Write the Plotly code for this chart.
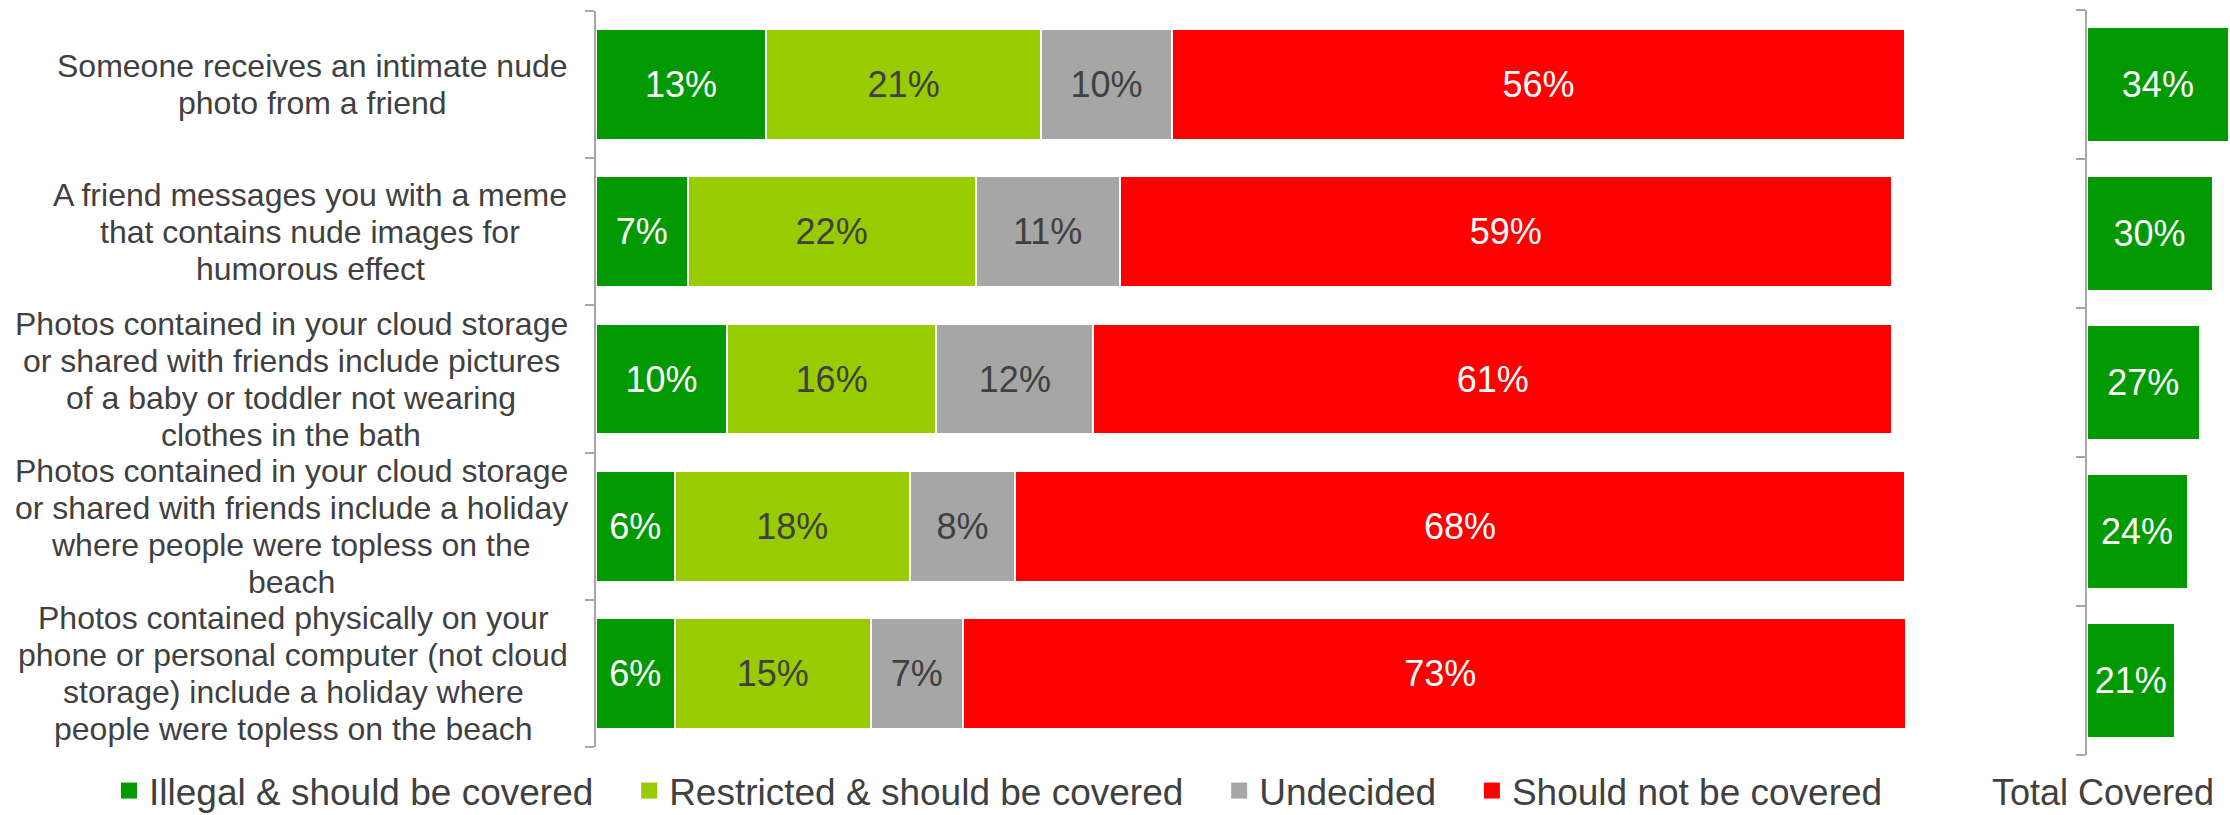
import plotly.graph_objects as go

# ---- data -------------------------------------------------------------
categories = [
    "Someone receives an intimate nude<br>photo from a friend",
    "A friend messages you with a meme<br>that contains nude images for<br>humorous effect",
    "Photos contained in your cloud storage<br>or shared with friends include pictures<br>of a baby or toddler not wearing<br>clothes in the bath",
    "Photos contained in your cloud storage<br>or shared with friends include a holiday<br>where people were topless on the<br>beach",
    "Photos contained physically on your<br>phone or personal computer (not cloud<br>storage) include a holiday where<br>people were topless on the beach",
]
series_names = [
    "Illegal & should be covered",
    "Restricted & should be covered",
    "Undecided",
    "Should not be covered",
]
illegal = [13, 7, 10, 6, 6]
restricted = [21, 22, 16, 18, 15]
undecided = [10, 11, 12, 8, 7]
not_covered = [56, 59, 61, 68, 73]
total_covered = [34, 30, 27, 24, 21]
total_title = "Total Covered"

# ---- styling ----------------------------------------------------------
W, H = 2230, 815
FONT = "Liberation Sans, Arial, sans-serif"
TEXT = "#404040"
AXIS = "#A6A6A6"
colors = ["#009900", "#99CC00", "#A6A6A6", "#FF0000"]
label_colors = ["white", TEXT, TEXT, "white"]

CAT_SIZE = 32
CAT_PITCH = 37
CAT_RIGHT = 568          # right edge of the category label blocks (px)

# Arial / Liberation Sans advance widths (per 1000 em) for centring label lines
ADV = {' ': 278, '(': 333, ')': 333, 'a': 556, 'b': 556, 'c': 500, 'd': 556,
       'e': 556, 'f': 278, 'g': 556, 'h': 556, 'i': 222, 'j': 222, 'k': 500,
       'l': 222, 'm': 833, 'n': 556, 'o': 556, 'p': 556, 'q': 556, 'r': 333,
       's': 500, 't': 278, 'u': 556, 'v': 500, 'w': 722, 'x': 500, 'y': 500,
       'z': 500, 'A': 667, 'P': 667, 'S': 667}


def text_width(s, size):
    return sum(ADV.get(ch, 556) for ch in s) * size / 1000.0


def px_x(p):
    return p / W


def px_y(p):
    return 1 - p / H


rows = list(range(len(categories)))
fig = go.Figure()

# stacked main bars
for name, vals, col, tcol in zip(series_names,
                                 [illegal, restricted, undecided, not_covered],
                                 colors, label_colors):
    fig.add_trace(go.Bar(
        y=rows, x=vals, orientation="h", name=name,
        marker=dict(color=col, line=dict(color="white", width=2)),
        text=[f"{v}%" for v in vals], textposition="inside",
        insidetextanchor="middle",
        textfont=dict(family=FONT, size=36, color=tcol),
        showlegend=False, xaxis="x", yaxis="y",
    ))

# legend entries (square swatches)
pad = "\u00a0" * 3
for i, (name, col) in enumerate(zip(series_names, colors)):
    fig.add_trace(go.Scatter(
        x=[None], y=[None], mode="markers", name=name + (pad if i < 3 else ""),
        marker=dict(symbol="square", size=16, color=col),
        showlegend=True, xaxis="x", yaxis="y",
    ))

# total covered panel
fig.add_trace(go.Bar(
    y=rows, x=total_covered, orientation="h", width=0.76,
    marker=dict(color=colors[0], line=dict(color="white", width=1)),
    text=[f"{v}%" for v in total_covered], textposition="inside",
    insidetextanchor="middle",
    textfont=dict(family=FONT, size=36, color="white"),
    showlegend=False, xaxis="x2", yaxis="y2",
))

# category labels, one annotation per line so the line pitch stays tight
annotations = []
for i, cat in enumerate(categories):
    lines = cat.split("<br>")
    n = len(lines)
    wmax = max(text_width(l, CAT_SIZE) for l in lines)
    xc = CAT_RIGHT - wmax / 2
    for k, line in enumerate(lines):
        annotations.append(dict(
            x=px_x(xc), xref="paper", y=i, yref="y",
            xanchor="center", yanchor="middle",
            yshift=((n - 1) / 2 - k) * CAT_PITCH,
            text=line, showarrow=False,
            font=dict(family=FONT, size=CAT_SIZE, color=TEXT),
        ))

annotations.append(dict(
    x=px_x(2103), xref="paper", y=px_y(792), yref="paper",
    xanchor="center", yanchor="middle", text=total_title, showarrow=False,
    font=dict(family=FONT, size=36, color=TEXT),
))

boundaries = [r - 0.5 for r in rows] + [rows[-1] + 0.5]
yaxis_common = dict(
    range=[rows[-1] + 0.5, -0.5], tickvals=boundaries, showticklabels=False,
    ticks="outside", ticklen=9, tickwidth=2, tickcolor=AXIS,
    showline=True, linecolor=AXIS, linewidth=2,
    showgrid=False, zeroline=False, fixedrange=True,
)

fig.update_layout(
    width=W, height=H,
    margin=dict(l=0, r=0, t=0, b=0, autoexpand=False),
    paper_bgcolor="white", plot_bgcolor="white",
    barmode="stack", bargap=0.246,
    font=dict(family=FONT, color=TEXT),
    xaxis=dict(domain=[px_x(596), px_x(1905)], range=[0, 100], visible=False,
               anchor="y"),
    yaxis=dict(domain=[px_y(747), px_y(11)], anchor="x", **yaxis_common),
    xaxis2=dict(domain=[px_x(2087), 1.0], range=[0, 34.3], visible=False,
                anchor="y2"),
    yaxis2=dict(domain=[px_y(755), px_y(10)], anchor="x2", **yaxis_common),
    legend=dict(
        orientation="h", traceorder="normal",
        x=px_x(109), xanchor="left",
        y=px_y(791), yanchor="middle",
        font=dict(family=FONT, size=37, color=TEXT),
        bgcolor="rgba(0,0,0,0)", tracegroupgap=0,
    ),
    annotations=annotations,
    uniformtext=dict(mode=False),
)

fig.write_html("out.html")
